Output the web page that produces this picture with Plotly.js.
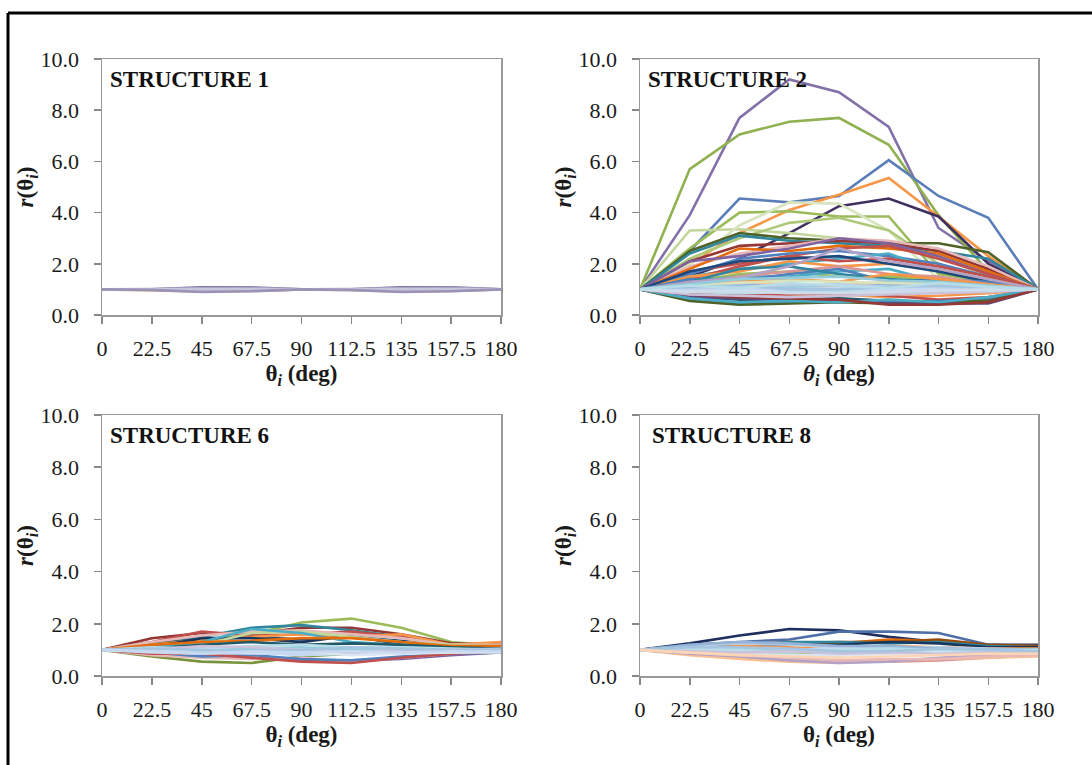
<!DOCTYPE html>
<html>
<head>
<meta charset="utf-8">
<script src="https://cdn.plot.ly/plotly-3.0.1.min.js"></script>
<style>html,body{margin:0;padding:0;background:#fff;}#chart{width:1092px;height:765px;}</style>
</head>
<body>
<div id="chart"></div>
<script>
// x positions (deg) and tick labels
const thetaDeg = [0, 22.5, 45, 67.5, 90, 112.5, 135, 157.5, 180];
const thetaTickText = ["0", "22.5", "45", "67.5", "90", "112.5", "135", "157.5", "180"];
const yTickVals = [0, 2, 4, 6, 8, 10];
const yTickText = ["0.0", "2.0", "4.0", "6.0", "8.0", "10.0"];
const panelLabels = ["STRUCTURE 1", "STRUCTURE 2", "STRUCTURE 6", "STRUCTURE 8"];

// STRUCTURE 1 : r(theta_i) curves
const s1Values = [
  [1, 1.00, 1.08, 1.08, 1, 1.00, 1.08, 1.08, 1],
  [1, 0.97, 0.92, 0.95, 1, 0.97, 0.92, 0.95, 1],
  [1, 1.01, 1.05, 1.06, 1, 1.01, 1.05, 1.06, 1],
  [1, 0.99, 0.95, 0.94, 1, 0.99, 0.95, 0.94, 1],
  [1, 1.00, 1.02, 1.02, 1, 1.00, 1.02, 1.02, 1],
  [1, 0.98, 0.90, 0.93, 1, 0.98, 0.90, 0.93, 1]
];
const s1Colors = ["#6f6a8e", "#c8b48c", "#a9a6c9", "#b7a58e", "#c6c6dc", "#9c92b8"];

// STRUCTURE 2
const s2Values = [
  [1, 3.9, 7.7, 9.2, 8.7, 7.35, 3.4, 2.1, 1],
  [1, 5.7, 7.05, 7.55, 7.7, 6.65, 3.9, 1.7, 1],
  [1, 2.5, 4.55, 4.4, 4.65, 6.05, 4.65, 3.8, 1],
  [1, 2.0, 3.2, 4.1, 4.7, 5.35, 3.85, 2.3, 1],
  [1, 1.5, 2.2, 3.2, 4.25, 4.55, 3.85, 2.0, 1],
  [1, 2.6, 4.0, 4.05, 3.85, 3.85, 1.6, 1.3, 1],
  [1, 3.3, 3.35, 3.2, 3.0, 2.8, 2.3, 1.5, 1],
  [1, 2.0, 3.5, 4.4, 4.35, 3.3, 1.4, 1.2, 1],
  [1, 2.2, 3.0, 3.6, 3.8, 3.3, 2.0, 1.3, 1],
  [1, 2.5, 3.2, 3.0, 2.9, 2.8, 2.8, 2.45, 1],
  [1, 2.4, 3.1, 2.9, 2.8, 2.7, 2.5, 2.2, 1],
  [1, 2.1, 2.7, 2.8, 2.9, 2.8, 2.5, 1.8, 1],
  [1, 1.9, 2.4, 2.7, 3.0, 2.9, 2.6, 1.9, 1],
  [1, 1.8, 2.6, 2.5, 2.7, 2.6, 2.4, 1.7, 1],
  [1, 2.1, 2.3, 2.6, 3.0, 2.8, 2.3, 1.6, 1],
  [1, 1.7, 2.0, 2.3, 2.6, 2.7, 2.2, 1.6, 1],
  [1, 1.6, 2.2, 2.4, 2.5, 2.3, 2.0, 1.5, 1],
  [1, 1.5, 1.8, 2.0, 2.2, 2.4, 1.7, 1.4, 1],
  [1, 1.4, 1.9, 2.3, 2.1, 2.2, 1.9, 1.5, 1],
  [1, 1.5, 1.7, 2.1, 1.9, 2.0, 1.8, 1.4, 1],
  [1, 1.7, 2.1, 2.2, 2.3, 2.0, 1.7, 1.3, 1],
  [1, 1.3, 1.6, 1.7, 1.5, 1.5, 1.4, 1.2, 1],
  [1, 1.3, 1.5, 1.5, 1.7, 1.8, 1.3, 1.2, 1],
  [1, 1.4, 1.35, 1.6, 1.8, 1.3, 1.4, 1.3, 1],
  [1, 1.2, 1.5, 1.7, 1.9, 1.6, 1.5, 1.2, 1],
  [1, 1.3, 1.8, 1.9, 1.6, 1.4, 1.3, 1.1, 1],
  [1, 1.2, 1.3, 1.4, 1.3, 1.6, 1.4, 1.2, 1],
  [1, 1.3, 1.45, 1.9, 2.6, 2.1, 1.8, 1.4, 1],
  [1, 0.9, 0.8, 0.75, 0.8, 0.7, 0.75, 0.85, 1],
  [1, 0.85, 0.8, 0.8, 0.85, 0.75, 0.6, 0.7, 1],
  [1, 0.7, 0.6, 0.6, 0.65, 0.55, 0.5, 0.6, 1],
  [1, 0.6, 0.45, 0.5, 0.55, 0.5, 0.55, 0.6, 1],
  [1, 0.55, 0.4, 0.45, 0.5, 0.45, 0.5, 0.55, 1],
  [1, 0.7, 0.65, 0.55, 0.6, 0.45, 0.45, 0.45, 1],
  [1, 0.65, 0.5, 0.55, 0.5, 0.6, 0.5, 0.7, 1],
  [1, 0.8, 0.7, 0.65, 0.6, 0.4, 0.4, 0.5, 1],
  [1, 1.1, 1.2, 1.2, 1.1, 1.2, 1.1, 1.05, 1],
  [1, 1.05, 1.0, 1.1, 1.05, 1.0, 1.1, 1.0, 1],
  [1, 0.95, 0.9, 0.95, 1.0, 0.95, 0.9, 0.95, 1],
  [1, 1.0, 1.05, 0.95, 0.9, 1.0, 1.0, 1.0, 1],
  [1, 0.9, 0.85, 0.9, 0.95, 0.85, 0.9, 0.95, 1],
  [1, 0.8, 0.75, 0.7, 0.75, 0.8, 0.85, 0.9, 1],
  [1, 1.1, 1.3, 1.2, 1.15, 1.3, 1.2, 1.1, 1],
  [1, 1.15, 1.25, 1.35, 1.3, 1.25, 1.2, 1.1, 1],
  [1, 1.2, 1.4, 1.45, 1.5, 1.35, 1.3, 1.15, 1],
  [1, 1.05, 1.1, 1.15, 1.2, 1.1, 1.05, 1.05, 1],
  [1, 0.95, 0.95, 1.0, 1.05, 1.05, 1.0, 0.95, 1],
  [1, 1.1, 1.15, 1.0, 1.0, 1.1, 1.15, 1.05, 1],
  [1, 0.9, 0.95, 0.85, 0.85, 0.9, 0.95, 1.0, 1],
  [1, 1.15, 1.05, 1.25, 1.15, 1.05, 1.25, 1.1, 1]
];
const s2Colors = [
  "#8470a8", "#8fb150", "#5b7db8", "#f79646", "#403060", "#9bbb59", "#c3d69b", "#d7e4bd",
  "#afc97a", "#4f6228", "#31859c", "#953735", "#e6b9b8", "#e46c0a", "#8064a2", "#c0504d",
  "#4f81bd", "#4bacc6", "#c0504d", "#f79646", "#1f497d", "#9bbb59", "#4bacc6", "#4f81bd",
  "#d99694", "#31859c", "#f79646", "#b3a2c7", "#f79646", "#c0504d", "#215968", "#4f81bd",
  "#4f6228", "#604a7b", "#4bacc6", "#953735", "#95b3d7", "#93cddd", "#b9cde5", "#c6d9f1",
  "#b7dee8", "#ccc1da", "#fac090", "#d7e4bd", "#93cddd", "#b9cde5", "#c6d9f1", "#a5c4e0",
  "#d0dcea", "#b7dee8"
];

// STRUCTURE 6
const s6Values = [
  [1, 1.15, 1.35, 1.6, 2.05, 2.2, 1.85, 1.3, 1.15],
  [1, 1.45, 1.65, 1.6, 1.85, 1.85, 1.6, 1.25, 1.2],
  [1, 1.2, 1.5, 1.85, 1.95, 1.75, 1.5, 1.2, 1.15],
  [1, 1.3, 1.7, 1.55, 1.6, 1.7, 1.5, 1.2, 1.25],
  [1, 1.25, 1.4, 1.5, 1.4, 1.5, 1.35, 1.15, 1.1],
  [1, 1.2, 1.4, 1.5, 1.6, 1.5, 1.6, 1.2, 1.3],
  [1, 1.1, 1.45, 1.45, 1.3, 1.55, 1.2, 1.15, 1.1],
  [1, 1.3, 1.55, 1.7, 1.75, 1.6, 1.45, 1.2, 1.2],
  [1, 1.1, 1.2, 1.65, 1.7, 1.5, 1.3, 1.2, 1.15],
  [1, 1.1, 1.3, 1.8, 1.65, 1.3, 1.2, 1.1, 1.05],
  [1, 1.2, 1.3, 1.35, 1.45, 1.45, 1.3, 1.15, 1.15],
  [1, 1.05, 1.2, 1.3, 1.2, 1.25, 1.2, 1.1, 1.05],
  [1, 0.75, 0.55, 0.5, 0.75, 0.85, 0.9, 0.9, 0.9],
  [1, 0.85, 0.8, 0.7, 0.6, 0.6, 0.65, 0.8, 0.9],
  [1, 0.8, 0.7, 0.65, 0.7, 0.55, 0.7, 0.85, 0.95],
  [1, 0.9, 0.75, 0.8, 0.65, 0.6, 0.75, 0.85, 0.9],
  [1, 0.85, 0.85, 0.7, 0.55, 0.5, 0.7, 0.85, 0.95],
  [1, 0.95, 0.9, 0.85, 0.85, 0.9, 0.95, 0.95, 1],
  [1, 1.05, 1.1, 1.0, 0.95, 1.05, 1.05, 1.0, 1.05],
  [1, 1.0, 0.95, 1.05, 1.1, 1.0, 1.0, 1.0, 1],
  [1, 0.9, 0.85, 0.9, 0.8, 0.85, 0.9, 0.9, 0.95],
  [1, 1.1, 1.05, 1.15, 1.2, 1.1, 1.1, 1.05, 1.0],
  [1, 0.95, 1.0, 0.9, 0.95, 0.8, 0.85, 0.9, 0.9],
  [1, 1.0, 1.15, 1.1, 1.0, 0.9, 1.0, 1.0, 1.0],
  [1, 1.05, 1.0, 0.95, 1.0, 1.1, 1.05, 1.0, 1.0],
  [1, 0.95, 0.85, 0.95, 0.9, 0.95, 0.9, 0.95, 0.95]
];
const s6Colors = [
  "#9bbb59", "#943634", "#31859c", "#c0504d", "#1f497d", "#f79646", "#17375e", "#e6b9b8",
  "#c3d69b", "#4bacc6", "#e46c0a", "#215968", "#77933c", "#8064a2", "#e6b9b8", "#4f81bd",
  "#c0504d", "#b9cde5", "#95b3d7", "#93cddd", "#c6d9f1", "#b7dee8", "#dce6f2", "#ccc1da",
  "#a5c4e0", "#c6d9f1"
];

// STRUCTURE 8
const s8Values = [
  [1, 1.25, 1.55, 1.8, 1.75, 1.5, 1.3, 1.2, 1.2],
  [1, 1.2, 1.3, 1.4, 1.7, 1.7, 1.65, 1.2, 1.15],
  [1, 1.1, 1.2, 1.3, 1.25, 1.4, 1.35, 1.15, 1.1],
  [1, 1.1, 1.15, 1.25, 1.3, 1.3, 1.4, 1.2, 1.15],
  [1, 1.1, 1.2, 1.3, 1.3, 1.25, 1.3, 1.15, 1.1],
  [1, 1.05, 1.1, 1.2, 1.2, 1.3, 1.25, 1.1, 1.1],
  [1, 1.05, 1.15, 1.1, 1.0, 1.15, 1.1, 1.05, 1.05],
  [1, 1.0, 0.9, 0.85, 0.8, 0.9, 0.95, 1.0, 1.0],
  [1, 0.85, 0.7, 0.6, 0.55, 0.55, 0.6, 0.7, 0.8],
  [1, 0.8, 0.65, 0.55, 0.5, 0.6, 0.65, 0.7, 0.75],
  [1, 0.85, 0.75, 0.6, 0.5, 0.55, 0.7, 0.8, 0.85],
  [1, 0.9, 0.8, 0.7, 0.6, 0.65, 0.65, 0.75, 0.8],
  [1, 1.15, 1.25, 1.2, 1.1, 1.1, 1.1, 1.05, 1.0],
  [1, 1.2, 1.3, 1.25, 1.15, 1.15, 1.05, 1.0, 1.0],
  [1, 1.0, 0.95, 1.0, 1.05, 1.0, 0.95, 0.95, 0.95],
  [1, 1.1, 1.05, 0.95, 0.9, 0.95, 1.0, 1.0, 0.95],
  [1, 0.9, 0.85, 0.8, 0.8, 0.85, 0.9, 0.95, 0.9],
  [1, 1.05, 1.0, 0.9, 1.0, 1.05, 1.0, 0.95, 1.0],
  [1, 0.95, 0.9, 0.95, 0.85, 0.9, 0.85, 0.9, 0.9],
  [1, 1.1, 1.1, 1.05, 0.95, 0.95, 1.05, 1.0, 0.95],
  [1, 0.9, 0.8, 0.75, 0.7, 0.75, 0.8, 0.85, 0.85]
];
const s8Colors = [
  "#1f2f5e", "#4f6fa8", "#e46c0a", "#984807", "#31859c", "#17375e", "#f79646", "#9bbb59",
  "#d99694", "#fac090", "#b3a2c7", "#e6b9b8", "#b9cde5", "#95b3d7", "#c6d9f1", "#93cddd",
  "#dce6f2", "#b7dee8", "#ccc1da", "#a5c4e0", "#fcd5b5"
];

const panels = [
  {vals: s1Values, cols: s1Colors, xa: "x", ya: "y"},
  {vals: s2Values, cols: s2Colors, xa: "x2", ya: "y2"},
  {vals: s6Values, cols: s6Colors, xa: "x3", ya: "y3"},
  {vals: s8Values, cols: s8Colors, xa: "x4", ya: "y4"}
];

const traces = [];
panels.forEach(p => {
  p.vals.forEach((v, i) => {
    traces.push({
      type: "scatter", mode: "lines", x: thetaDeg, y: v,
      xaxis: p.xa, yaxis: p.ya, showlegend: false, hoverinfo: "skip",
      line: {color: p.cols[i % p.cols.length], width: 2.6}
    });
  });
});

const serif = "'Liberation Serif', 'Times New Roman', Times, serif";
const tickFont = {family: serif, size: 22, color: "#1a1a1a"};
const titleFont = {family: serif, size: 23, color: "#1a1a1a"};

function xAxis(domain, anchor, italicTheta) {
  return {
    domain: domain, anchor: anchor, range: [0, 180], tickmode: "array",
    tickvals: thetaDeg, ticktext: thetaTickText, ticks: "outside", ticklen: 7,
    tickcolor: "#888", tickwidth: 1.5, showline: true, linecolor: "#999", linewidth: 1.5,
    mirror: true, showgrid: false, zeroline: false, tickfont: tickFont, fixedrange: true,
    ticklabelstandoff: 6,
    title: {text: italicTheta ? "<b><i>θ<sub>i</sub></i> (deg)</b>" : "<b>θ<sub><i>i</i></sub> (deg)</b>",
            font: titleFont, standoff: 4}
  };
}
function yAxis(domain, anchor) {
  return {
    domain: domain, anchor: anchor, range: [0, 10], tickmode: "array",
    tickvals: yTickVals, ticktext: yTickText, ticks: "outside", ticklen: 7,
    tickcolor: "#888", tickwidth: 1.5, showline: true, linecolor: "#999", linewidth: 1.5,
    mirror: true, showgrid: false, zeroline: false, tickfont: tickFont, fixedrange: true,
    ticklabelstandoff: 10,
    title: {text: "<b><i>r</i>(θ<sub><i>i</i></sub>)</b>", font: titleFont, standoff: 0}
  };
}

const W = 1092, H = 765;
const colL = [102 / W, 501 / W], colR = [640 / W, 1038 / W];
const rowT = [1 - 315 / H, 1 - 59 / H], rowB = [1 - 676 / H, 1 - 415 / H];

const annFont = {family: serif, size: 23, color: "#111"};
const annotations = [
  {xref: "x domain", yref: "y domain", x: 0.015, y: 0.92, text: "<b>" + panelLabels[0] + "</b>"},
  {xref: "x2 domain", yref: "y2 domain", x: 0.015, y: 0.92, text: "<b>" + panelLabels[1] + "</b>"},
  {xref: "x3 domain", yref: "y3 domain", x: 0.015, y: 0.92, text: "<b>" + panelLabels[2] + "</b>"},
  {xref: "x4 domain", yref: "y4 domain", x: 0.025, y: 0.92, text: "<b>" + panelLabels[3] + "</b>"}
].map(a => Object.assign(a, {showarrow: false, xanchor: "left", yanchor: "middle", font: annFont}));

const layout = {
  width: W, height: H, autosize: false,
  margin: {l: 0, r: 0, t: 0, b: 0},
  paper_bgcolor: "#fff", plot_bgcolor: "#fff",
  showlegend: false,
  xaxis: xAxis(colL, "y", false), yaxis: yAxis(rowT, "x"),
  xaxis2: xAxis(colR, "y2", true), yaxis2: yAxis(rowT, "x2"),
  xaxis3: xAxis(colL, "y3", false), yaxis3: yAxis(rowB, "x3"),
  xaxis4: xAxis(colR, "y4", false), yaxis4: yAxis(rowB, "x4"),
  annotations: annotations,
  shapes: [
    {type: "line", xref: "paper", yref: "paper", x0: 8 / W, x1: 1.01, y0: 1 - 13 / H, y1: 1 - 13 / H, line: {color: "#000", width: 3}},
    {type: "line", xref: "paper", yref: "paper", x0: 8 / W, x1: 8 / W, y0: 1 - 13 / H, y1: -0.01, line: {color: "#000", width: 3}}
  ]
};

Plotly.newPlot("chart", traces, layout, {displayModeBar: false, staticPlot: true});
</script>
</body>
</html>
